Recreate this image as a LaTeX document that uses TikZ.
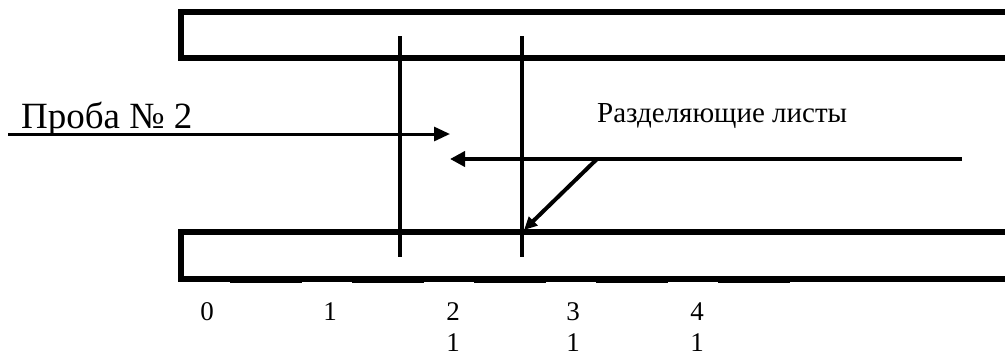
\documentclass[tikz,border=0pt]{standalone}
\usepackage{fontspec}
\setmainfont{Liberation Serif}
\newfontfamily\tnr{Liberation Serif}
\usetikzlibrary{arrows.meta}
\begin{document}
\begin{tikzpicture}[x=1pt,y=-1pt,
  wall/.style={line width=6.5pt,line join=miter},
  sheet/.style={line width=4.3pt},
  thinarrow/.style={line width=3pt,-{Triangle[length=16pt,width=14pt]}},
  thickarrow/.style={line width=4.5pt,-{Triangle[length=15pt,width=15pt]}},
  diagarrow/.style={line width=4pt,-{Triangle[length=13pt,width=12pt]}},
  bigtxt/.style={font=\tnr\fontsize{37}{42}\selectfont,inner sep=0pt},
  midtxt/.style={font=\tnr\fontsize{29}{34}\selectfont,inner sep=0pt},
  numtxt/.style={font=\tnr\fontsize{27}{30}\selectfont,inner sep=0pt,anchor=base},
  ridge/.style={line width=1.5pt,dash pattern=on 72pt off 50pt}]
\useasboundingbox (0,0) rectangle (1005,357);
% pipe walls
\draw[wall] (1012,12) -- (181,12) -- (181,58) -- (1012,58);
\draw[wall] (1012,232) -- (181,232) -- (181,279) -- (1012,279);
\draw[ridge] (230,282.2) -- (792,282.2);
% separating sheets
\coordinate (s1t) at (400,36); \coordinate (s1b) at (400,257);
\coordinate (s2t) at (522,36); \coordinate (s2b) at (522,257);
\draw[sheet] (s1t) -- (s1b);
\draw[sheet] (s2t) -- (s2b);
% labels
\node[bigtxt,anchor=base west] (proba) at (21,128) {Проба № 2};
\node[midtxt,anchor=base west] (razd) at (597,122) {Разделяющие листы};
% arrows
\coordinate (a1s) at (8,134); \coordinate (a1e) at (450,134);
\draw[thinarrow] (a1s) -- (a1e);
\coordinate (a2s) at (962,159); \coordinate (a2e) at (450,159);
\draw[thickarrow] (a2s) -- (a2e);
\coordinate (dgs) at (597,159); \coordinate (dge) at (524,230);
\draw[diagarrow] (dgs) -- (dge);
% scale numbers
\node[numtxt] (n0) at (207,320) {0};
\node[numtxt] (n1) at (330,320) {1};
\node[numtxt] (n2) at (453,320) {2};
\node[numtxt] (n3) at (573,320) {3};
\node[numtxt] (n4) at (697,320) {4};
\node[numtxt] (m2) at (453,351) {1};
\node[numtxt] (m3) at (573,351) {1};
\node[numtxt] (m4) at (697,351) {1};
\end{tikzpicture}
\end{document}
